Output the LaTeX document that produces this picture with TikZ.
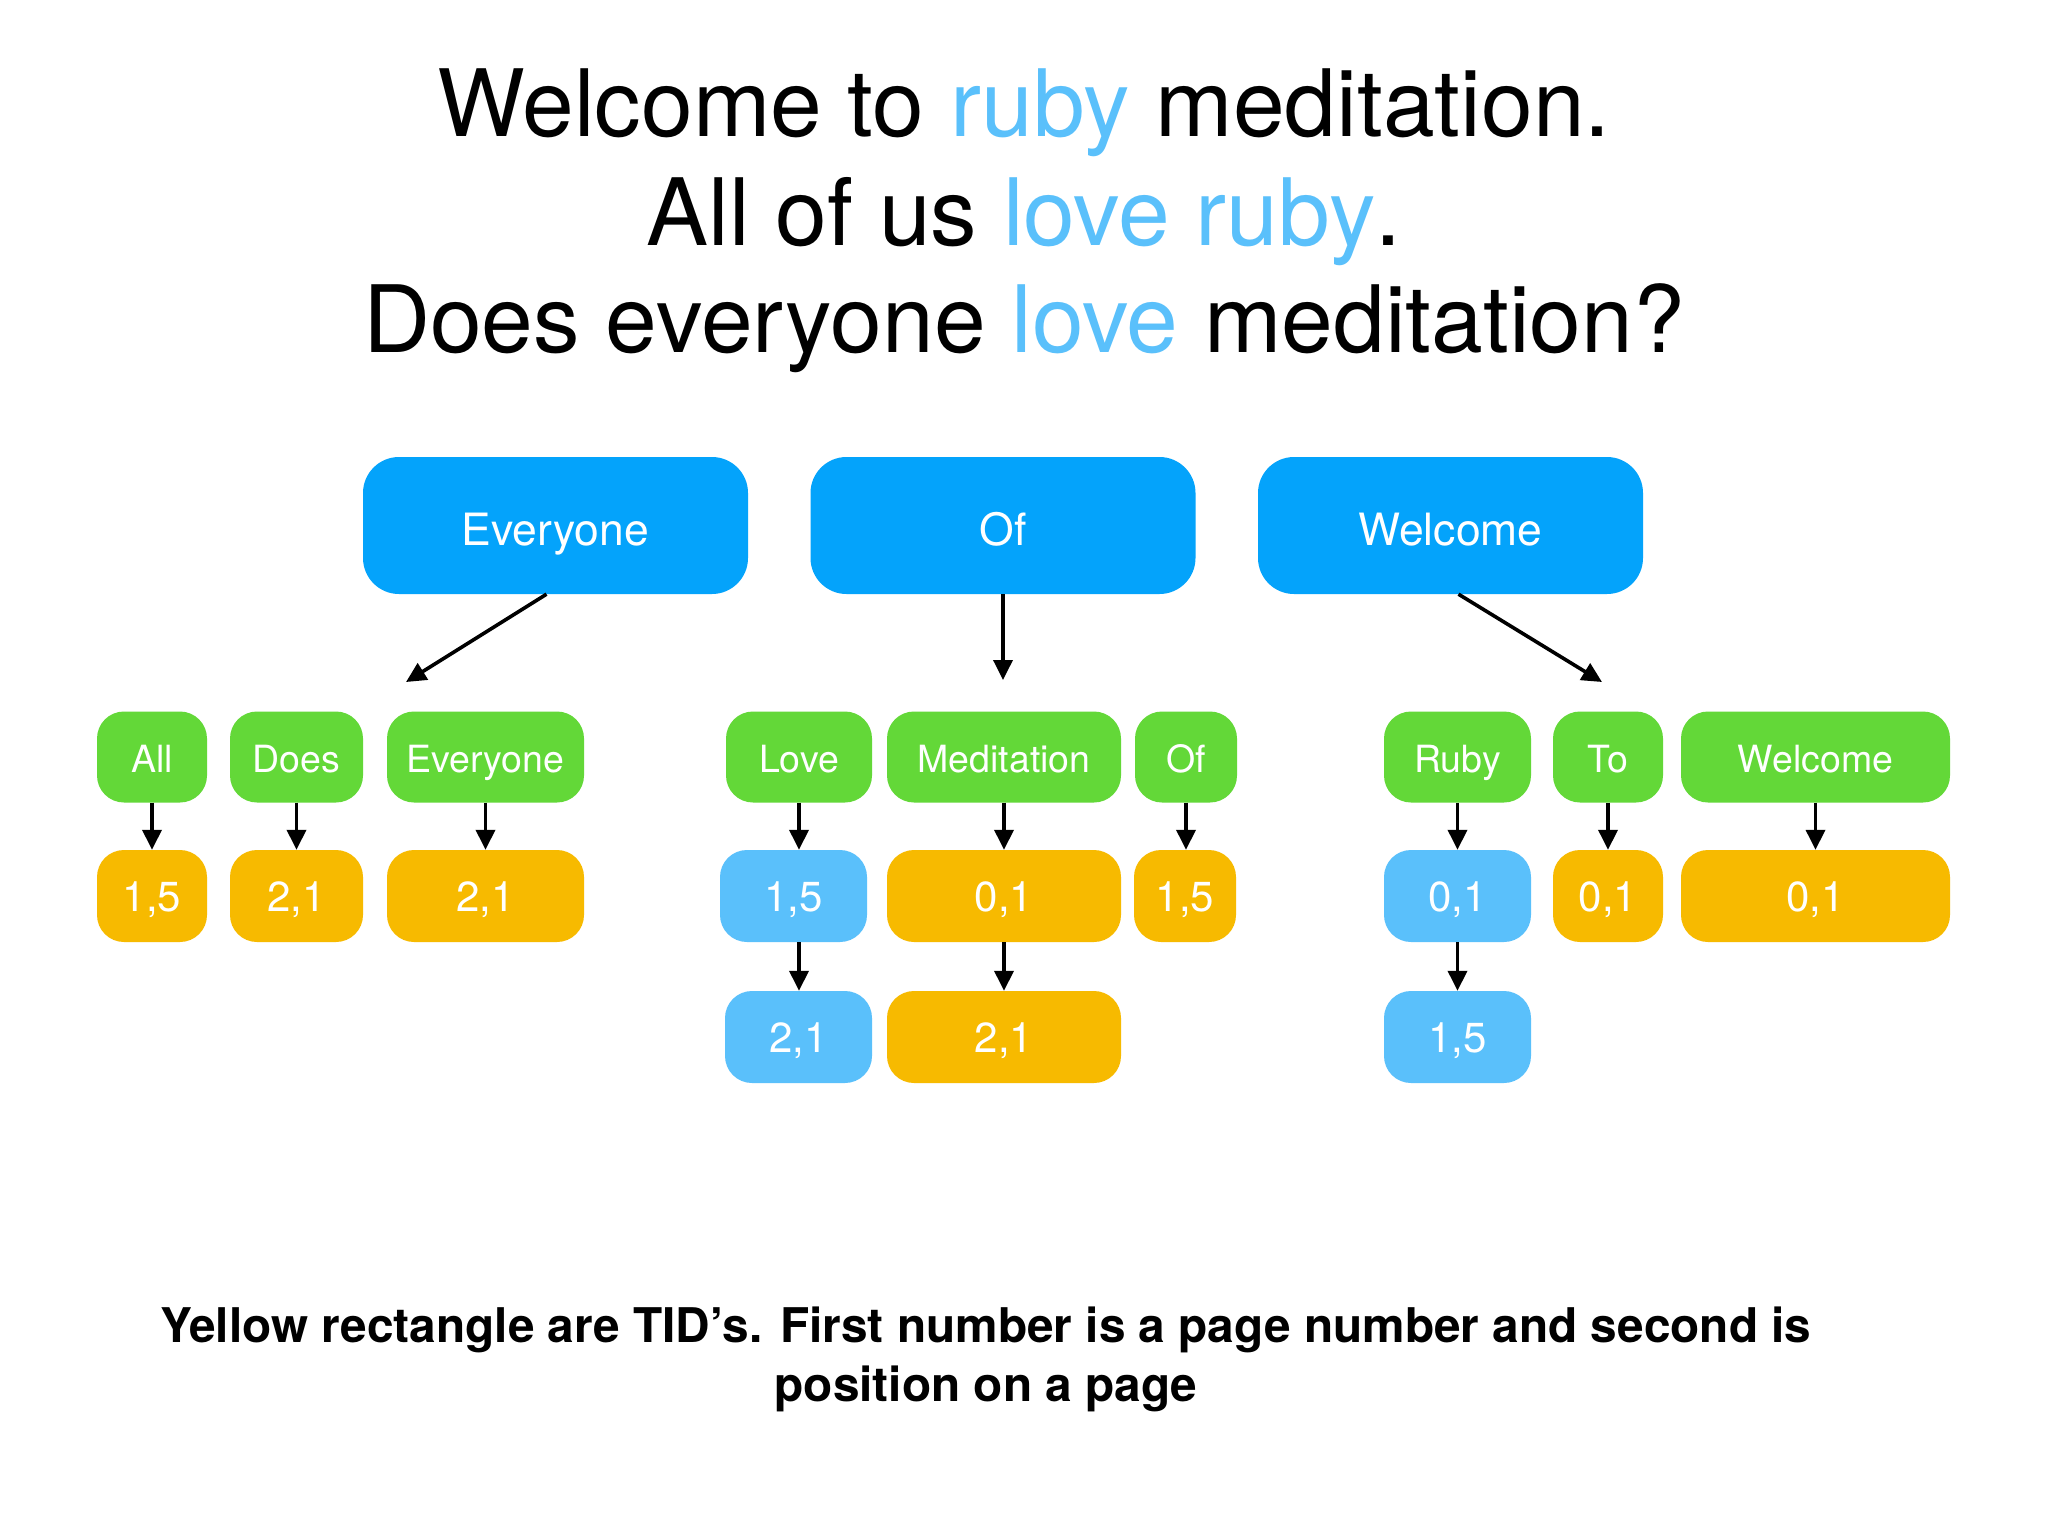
\documentclass[tikz,border=0pt]{standalone}
\usepackage{fontspec}
\setmainfont{TeX Gyre Heros}
\usetikzlibrary{arrows.meta}
\definecolor{bigblue}{RGB}{4,163,251}
\definecolor{termgreen}{RGB}{99,216,56}
\definecolor{tidyellow}{RGB}{247,186,0}
\definecolor{lblue}{RGB}{90,192,251}
\tikzset{
  bigbox/.style={rectangle, fill=bigblue, rounded corners=36pt, minimum width=385pt, minimum height=137pt, inner sep=0pt, text=white, font=\fontsize{44.5}{44.5}\selectfont, text height=40pt, text depth=0pt},
  termbox/.style={rectangle, fill=termgreen, rounded corners=27pt, minimum height=91pt, inner sep=0pt, text=white, font=\fontsize{37.5}{37.5}\selectfont, text height=31.5pt, text depth=0pt},
  tidbox/.style={rectangle, fill=tidyellow, rounded corners=27pt, minimum height=92pt, inner sep=0pt, text=white, font=\fontsize{42}{42}\selectfont, text height=30pt, text depth=0pt},
  ltidbox/.style={tidbox, fill=lblue},
  conn/.style={-{Triangle[length=20pt,width=19pt]}, line width=3.6pt, draw=black},
  title/.style={anchor=base, inner sep=0pt, font=\fontsize{93}{93}\selectfont},
  note/.style={anchor=base, inner sep=0pt, font=\fontsize{47.8}{47.8}\selectfont\bfseries}
}
\begin{document}
\begin{tikzpicture}[x=1pt,y=-1pt]
\useasboundingbox[fill=white] (0,0) rectangle (2048,1536);

% title
\node[title] (t1) at (1024,137) {Welcome to \textcolor{lblue}{ruby} meditation.};
\node[title] (t2) at (1024,245) {All of us \textcolor{lblue}{love ruby}.};
\node[title] (t3) at (1024,352) {Does everyone \textcolor{lblue}{love} meditation?};

% big boxes
\node[bigbox] (bEvery) at (555.5,525.5) {Everyone};
\node[bigbox] (bOf) at (1003,525.5) {Of};
\node[bigbox] (bWelcome) at (1450.5,525.5) {Welcome};

% terms
\node[termbox, minimum width=110pt] (gAll) at (152,757) {All};
\node[termbox, minimum width=133pt] (gDoes) at (296.5,757) {Does};
\node[termbox, minimum width=197pt] (gEvery) at (485.5,757) {Everyone};
\node[termbox, minimum width=146pt] (gLove) at (799,757) {Love};
\node[termbox, minimum width=234pt] (gMed) at (1004,757) {Meditation};
\node[termbox, minimum width=102pt] (gOf) at (1186,757) {Of};
\node[termbox, minimum width=147pt] (gRuby) at (1457.5,757) {Ruby};
\node[termbox, minimum width=110pt] (gTo) at (1608,757) {To};
\node[termbox, minimum width=269pt] (gWelcome) at (1815.5,757) {Welcome};

% tids row 1
\node[tidbox, minimum width=110pt] (pAll) at (152,896) {1,5};
\node[tidbox, minimum width=133pt] (pDoes) at (296.5,896) {2,1};
\node[tidbox, minimum width=197pt] (pEvery) at (485.5,896) {2,1};
\node[ltidbox, minimum width=147pt] (pLove1) at (793.5,896) {1,5};
\node[tidbox, minimum width=234pt] (pMed1) at (1004,896) {0,1};
\node[tidbox, minimum width=102pt] (pOf) at (1185,896) {1,5};
\node[ltidbox, minimum width=147pt] (pRuby1) at (1457.5,896) {0,1};
\node[tidbox, minimum width=110pt] (pTo) at (1608,896) {0,1};
\node[tidbox, minimum width=269pt] (pWelcome) at (1815.5,896) {0,1};

% tids row 2
\node[ltidbox, minimum width=147pt] (pLove2) at (798.5,1037) {2,1};
\node[tidbox, minimum width=234pt] (pMed2) at (1004,1037) {2,1};
\node[ltidbox, minimum width=147pt] (pRuby2) at (1457.5,1037) {1,5};

% big arrows
\coordinate (eTip) at (406,682);
\coordinate (oTip) at (1003,680);
\coordinate (wTip) at (1602,682);
\draw[conn] ([xshift=-9pt]bEvery.south) -- (eTip);
\draw[conn] (bOf.south) -- (oTip);
\draw[conn] ([xshift=8pt]bWelcome.south) -- (wTip);

% small arrows
\foreach \a/\b in {gAll/pAll, gDoes/pDoes, gEvery/pEvery, gLove/pLove1, gMed/pMed1, gOf/pOf, gRuby/pRuby1, gTo/pTo, gWelcome/pWelcome}{
  \draw[conn] (\a.south) -- (\a.south |- \b.north);
}
\draw[conn] (gLove.south |- pLove1.south) -- (gLove.south |- pLove2.north);
\draw[conn] (pMed1.south) -- (pMed2.north);
\draw[conn] (pRuby1.south) -- (pRuby2.north);

% note
\node[note] (n1) at (986,1342) {Yellow rectangle are TID’s. First number is a page number and second is};
\node[note] (n2) at (986,1401) {position on a page};
\end{tikzpicture}
\end{document}
